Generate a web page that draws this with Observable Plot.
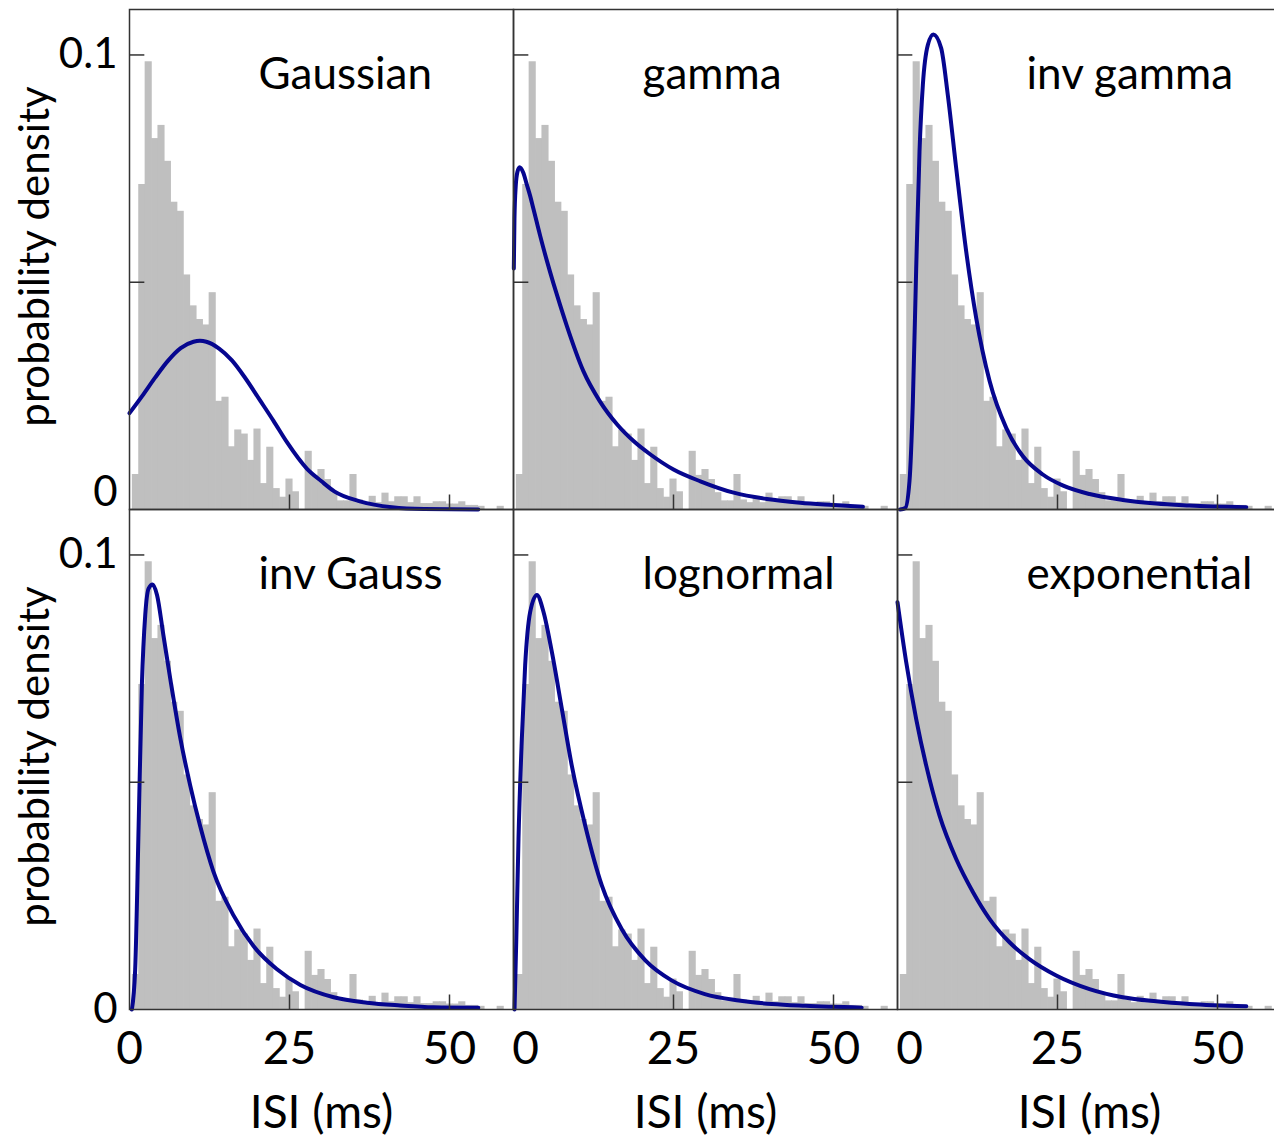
<!DOCTYPE html>
<html><head><meta charset="utf-8">
<script src="https://cdn.jsdelivr.net/npm/d3@7"></script>
<script src="https://cdn.jsdelivr.net/npm/@observablehq/plot@0.6"></script>
<style>
html,body{margin:0;padding:0;background:#fff;overflow:hidden;}
#chart{position:relative;width:1274px;height:1139px;overflow:hidden;}
</style></head><body><div id="chart"></div>
<script>
// ISI histogram (1 ms bins, centred on integer ms), same in all panels
const binCenters = [1,2,3,4,5,6,7,8,9,10,11,12,13,14,15,16,17,18,19,20,21,22,23,24,25,26,27,28,29,30,
  31,32,33,34,35,36,37,38,39,40,41,42,43,44,45,46,47,48,49,50,51,52,53,54,55,56,57,58];
const binDensity = [0.0077,0.0715,0.0985,0.0816,0.0845,0.0766,0.0676,0.0656,0.0516,0.0448,
  0.0418,0.0406,0.0477,0.0238,0.0247,0.0138,0.0175,0.0166,0.0108,0.0177,
  0.0057,0.0137,0.0046,0.0027,0.0067,0.0039,0,0.0128,0.0075,0.0088,
  0.0066,0.0037,0.0019,0.0019,0.0077,0.0021,0.0015,0.0029,0.0015,0.0036,
  0.0017,0.0028,0.0028,0.0015,0.0028,0.0013,0.0013,0.0017,0.0017,0.0012,
  0.0012,0.0017,0.0009,0.0009,0.0007,0,0,0.0007];

// panels
const panelNames = ["Gaussian","gamma","inv gamma","inv Gauss","lognormal","exponential"];
const panelCols  = ["c0","c1","c2","c0","c1","c2"];
const panelRows  = ["r0","r0","r0","r1","r1","r1"];

// fitted curves
const gaussianX = [0,2,4,6,8,10,11,12,14,16,18,20.4,22.5,24.6,27.7,30,32,36,41,46,54.5];
const gaussianY = [0.0212,0.0250,0.0290,0.0327,0.0355,0.0369,0.0371,0.0369,0.0354,0.0328,0.0291,0.0240,0.0195,0.0148,0.0090,0.0062,0.0040,0.0018,0.0005,0.0001,0];
const gammaX = [0.05,0.15,0.35,0.6,0.95,1.5,2.1,2.6,3.1,3.6,4.17,5.2,6.25,7.3,8.33,10.9,13.5,16.2,18.8,21.4,25,29.2,34.4,39.6,44.8,50,54.6];
const gammaY = [0.053,0.064,0.0712,0.0742,0.0753,0.0742,0.0714,0.0690,0.0662,0.0634,0.0602,0.0548,0.0497,0.0449,0.0404,0.0305,0.0238,0.0187,0.0150,0.0121,0.0088,0.0062,0.0037,0.0023,0.0015,0.0010,0.0006];
const invGammaX = [0.4,1.2,1.87,2.4,2.92,3.44,3.96,4.74,5.6,6.82,7.86,9.17,10.73,12.3,14.4,17,19.6,22.7,25.8,30,35.2,40.4,45.6,54.5];
const invGammaY = [0,0.0003,0.0062,0.0238,0.053,0.0788,0.0934,0.1022,0.1045,0.1015,0.0912,0.0751,0.0568,0.0421,0.0282,0.0179,0.0117,0.0077,0.0053,0.0034,0.0021,0.0013,0.0009,0.0005];
const invGaussX = [0.37,0.89,1.42,1.94,2.46,2.98,3.6,4.3,5.3,6.4,7.9,9.5,11.05,13.1,16.3,19.4,23,26.7,31.9,37.1,42.3,47.5,54.5];
const invGaussY = [0,0.0089,0.040,0.0716,0.0868,0.0926,0.0935,0.0912,0.0823,0.0725,0.060,0.0492,0.0403,0.0304,0.0206,0.0139,0.0089,0.0054,0.0027,0.0015,0.0009,0.0005,0.0004];
const lognormalX = [0.16,0.43,0.78,1.3,1.82,2.6,3.65,4.7,6.0,7.56,9.1,11.2,13.8,16.9,20.6,24.7,29.9,35.2,40.4,45.6,54.4];
const lognormalY = [0,0.015,0.0375,0.0595,0.0757,0.0874,0.0912,0.0874,0.0786,0.0661,0.0537,0.0405,0.0273,0.0177,0.0108,0.0064,0.0034,0.0020,0.0012,0.0008,0.0004];
const exponentialX = [0,1.35,2.92,4.48,6.56,9.17,11.8,14.4,17.5,20.6,24.8,30,35.2,40.4,45.6,54.5];
const exponentialY = [0.0896,0.0765,0.0639,0.0537,0.0427,0.0331,0.0258,0.0199,0.0148,0.0111,0.0075,0.0045,0.0027,0.0018,0.0012,0.0007];

// axes
const xTickValues = [0, 25, 50];
const xTickMarks = [25, 50];
const yTickValues = [0, 0.1];
const yTickLabels = ["0", "0.1"];
const yTickMarks = [0.05, 0.1];
const xLabel = "ISI (ms)";
const yLabel = "probability density";
const colKeys = ["c0","c1","c2"];
const rowKeys = ["r0","r1"];

// tables built from the arrays
const hist = binCenters.map((x, i) => ({x, y: binDensity[i]}));
const curveXs = [gaussianX, gammaX, invGammaX, invGaussX, lognormalX, exponentialX];
const curveYs = [gaussianY, gammaY, invGammaY, invGaussY, lognormalY, exponentialY];
const curves = panelNames.flatMap((name, p) =>
  curveXs[p].map((x, i) => ({panel: name, col: panelCols[p], row: panelRows[p], x, y: curveYs[p][i]})));
const panels = panelNames.map((name, p) => ({name, col: panelCols[p], row: panelRows[p]}));
const yTicks = yTickValues.map((v, i) => ({v, label: yTickLabels[i]}));

const W = 1287, H = 1139, mL = 128, mR = 5, mT = 8, mB = 130;
const colW = (W - mL - mR) / 3, rowH = (H - mT - mB) / 2;
const ink = "#333";
const FONT = "Lato, 'Noto Sans', sans-serif";

const xLabelMarks = colKeys.flatMap(c => [
  Plot.text(xTickValues.filter(v => c === "c0" || v !== 0), {
    x: d => d, text: d => String(d), fx: () => c, fy: () => "r1",
    frameAnchor: "bottom", lineAnchor: "top", dy: 22, fontSize: 46, fill: "black"}),
  ...(c === "c0" ? [] : [Plot.text(xTickValues.filter(v => v === 0), {
    x: d => d, text: d => String(d), fx: () => c, fy: () => "r1",
    frameAnchor: "bottom", lineAnchor: "top", dy: 22, dx: 12, fontSize: 46, fill: "black"})])
]);

const chart = Plot.plot({
  width: W, height: H, marginLeft: mL, marginRight: mR, marginTop: mT, marginBottom: mB,
  style: {fontFamily: FONT, background: "white", maxWidth: "none", overflow: "visible"},
  x: {domain: [0, 60], axis: null},
  y: {domain: [0, 0.11], axis: null},
  fx: {domain: colKeys, axis: null, padding: 0},
  fy: {domain: rowKeys, axis: null, padding: 0},
  marks: [
    Plot.rect(hist, {x1: d => d.x - 0.5, x2: d => d.x + 0.5, y1: 0, y2: "y", fill: "#bfbfbf",
      insetLeft: -0.35, insetRight: -0.35}),
    Plot.line(curves, {x: "x", y: "y", z: "panel", fx: "col", fy: "row",
      stroke: "#06068f", strokeWidth: 4, curve: "monotone-x"}),
    Plot.tickY(yTickMarks, {y: d => d, stroke: ink, strokeWidth: 1.5, insetRight: colW - 16}),
    Plot.tickX(xTickMarks, {x: d => d, stroke: ink, strokeWidth: 1.5, insetTop: rowH - 15}),
    Plot.frame({stroke: ink, strokeWidth: 1.5}),
    Plot.text(panels, {fx: "col", fy: "row", text: "name", frameAnchor: "top-left",
      dx: 129, dy: 79, textAnchor: "start", lineAnchor: "bottom", fontSize: 44, fill: "black"}),
    // y tick labels
    Plot.text(yTicks.filter(d => d.v !== 0), {y: "v", text: "label", fx: () => "c0", fy: () => "r0",
      frameAnchor: "left", dx: -12, textAnchor: "end", lineAnchor: "middle", fontSize: 42, fill: "black"}),
    Plot.text(yTicks.filter(d => d.v === 0), {y: "v", text: "label", fx: () => "c0", fy: () => "r0",
      frameAnchor: "left", dx: -12, dy: -17, textAnchor: "end", lineAnchor: "middle", fontSize: 42, fill: "black"}),
    Plot.text(yTicks, {y: "v", text: "label", fx: () => "c0", fy: () => "r1",
      frameAnchor: "left", dx: -12, textAnchor: "end", lineAnchor: "middle", fontSize: 42, fill: "black"}),
    // axis titles
    ...xLabelMarks,
    Plot.text(colKeys, {fx: d => d, fy: () => "r1", text: () => xLabel, frameAnchor: "bottom",
      lineAnchor: "bottom", dy: 118, fontSize: 46, fill: "black"}),
    Plot.text(rowKeys, {fy: d => d, fx: () => "c0", text: () => yLabel, frameAnchor: "left",
      rotate: -90, dx: -81, dy: -3, lineAnchor: "bottom", textAnchor: "middle", fontSize: 42, fill: "black"})
  ]
});
document.getElementById("chart").appendChild(chart);
</script>
</body></html>
